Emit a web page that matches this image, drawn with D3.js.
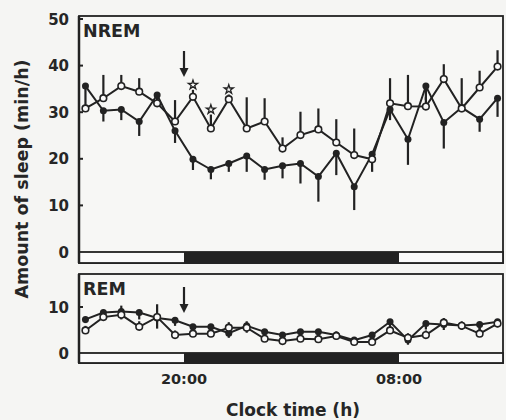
<!DOCTYPE html>
<meta charset="utf-8">
<script src="https://d3js.org/d3.v7.min.js"></script>
<style>
body {
  margin: 0;
  background: #f5f5f3;
}
svg {
  display: block;
}
text {
  font-family: "DejaVu Sans", sans-serif;
  font-weight: bold;
  fill: #262626;
}
.tick-label {
  font-size: 15px;
}
.panel-label {
  font-size: 17.5px;
}
.axis-title {
  font-size: 17px;
}
</style>
<body>
<div class="chart"></div>
<script>

// Clock time of each hourly bin (h, 24 = midnight)
var hours = [14.5, 15.5, 16.5, 17.5, 18.5, 19.5, 20.5, 21.5, 22.5, 23.5, 24.5, 25.5,
             26.5, 27.5, 28.5, 29.5, 30.5, 31.5, 32.5, 33.5, 34.5, 35.5, 36.5, 37.5];

// NREM sleep (min/h)
var nremOpen = [30.8, 33.0, 35.6, 34.4, 31.9, 28.0, 33.3, 26.5, 32.8, 26.5, 28.0, 22.2,
                25.1, 26.3, 23.5, 20.8, 19.9, 31.9, 31.3, 31.2, 37.1, 30.8, 35.3, 39.8];
var nremOpenErr = [0, 5.0, 2.4, 2.9, 1.0, 4.6, 1.5, 3.0, 1.0, 6.7, 5.0, 2.4,
                   5.0, 4.5, 5.0, 5.7, 1.5, 5.4, 6.7, 2.0, 3.2, 6.5, 3.6, 3.5];
var nremFilled = [35.6, 30.3, 30.6, 28.0, 33.7, 26.0, 19.9, 17.7, 19.0, 20.6, 17.7, 18.5,
                  19.0, 16.2, 21.2, 14.0, 21.0, 30.6, 24.2, 35.6, 27.8, 31.0, 28.5, 33.0];
var nremFilledErr = [4.8, 2.3, 2.3, 3.1, 1.0, 2.6, 2.3, 2.1, 1.8, 3.4, 2.2, 2.7,
                     4.3, 5.4, 4.7, 5.0, 3.8, 2.3, 5.5, 3.0, 5.6, 1.0, 2.7, 4.0];
var nremStars = [6, 7, 8];

// REM sleep (min/h)
var remOpen = [4.9, 7.8, 8.3, 5.7, 7.8, 3.9, 4.2, 4.2, 5.5, 5.5, 3.1, 2.6,
               3.1, 3.0, 3.7, 2.4, 2.4, 4.9, 3.3, 3.9, 6.6, 5.9, 4.2, 6.4];
var remOpenErr = [1.0, 1.2, 2.0, 1.2, 2.8, 1.0, 1.0, 1.0, 1.2, 1.4, 1.0, 1.0,
                  1.0, 1.0, 1.0, 1.0, 1.3, 1.0, 1.0, 1.0, 1.0, 1.0, 1.4, 1.0];
var remFilled = [7.3, 8.8, 9.0, 8.8, 7.6, 7.1, 5.7, 5.7, 4.3, 5.9, 4.6, 3.9,
                 4.6, 4.6, 3.9, 2.8, 3.9, 6.8, 2.8, 6.4, 6.2, 6.0, 6.2, 6.8];
var remFilledErr = [0.8, 1.3, 1.7, 1.5, 2.3, 1.2, 1.0, 1.0, 1.0, 1.5, 1.0, 1.0,
                    1.0, 1.2, 1.0, 0.8, 1.0, 1.3, 1.0, 1.3, 1.2, 1.0, 1.2, 1.2];

var xTicks = [20, 32],
    xTickLabels = ["20:00", "08:00"],
    darkPeriod = [20, 32],
    arrowTime = 20;

var width = 506,
    height = 420,
    frameLeft = 79,
    frameRight = 503,
    ink = "#222";

var svg = d3.select(".chart").append("svg")
    .attr("width", width)
    .attr("height", height);

var x = d3.scaleLinear().domain([20, 32]).range([184, 399]);

var panels = [
  {name: "NREM", top: 16, bottom: 263, y: d3.scaleLinear().domain([0, 50]).range([252, 19]),
   ticks: [0, 10, 20, 30, 40, 50], open: nremOpen, openErr: nremOpenErr,
   filled: nremFilled, filledErr: nremFilledErr, stars: nremStars, arrow: [51, 77]},
  {name: "REM", top: 274, bottom: 363, y: d3.scaleLinear().domain([0, 10]).range([353, 307]),
   ticks: [0, 10], open: remOpen, openErr: remOpenErr,
   filled: remFilled, filledErr: remFilledErr, stars: [], arrow: [287, 313]}
];

panels.forEach(function(p) {
  var g = svg.append("g");
  var y = p.y;
  var zero = y(0);

  // frame
  g.append("rect")
    .attr("x", frameLeft)
    .attr("y", p.top)
    .attr("width", frameRight - frameLeft)
    .attr("height", p.bottom - p.top)
    .attr("fill", "#f7f7f5")
    .attr("stroke", ink)
    .attr("stroke-width", 1.8);

  // light / dark bar
  g.append("rect")
    .attr("x", frameLeft)
    .attr("y", zero)
    .attr("width", frameRight - frameLeft)
    .attr("height", p.bottom - zero)
    .attr("fill", "#fafafa")
    .attr("stroke", ink)
    .attr("stroke-width", 1.8);
  g.append("rect")
    .attr("x", x(darkPeriod[0]))
    .attr("y", zero)
    .attr("width", x(darkPeriod[1]) - x(darkPeriod[0]))
    .attr("height", p.bottom - zero)
    .attr("fill", ink);

  // y axis line (thicker)
  g.append("line")
    .attr("x1", frameLeft).attr("x2", frameLeft)
    .attr("y1", p.top).attr("y2", p.bottom)
    .attr("stroke", ink)
    .attr("stroke-width", 2.5);

  // y ticks
  g.selectAll(".ytick")
    .data(p.ticks.filter(function(d) { return d > 0; }))
    .enter().append("line")
    .attr("x1", frameLeft).attr("x2", frameLeft + 4)
    .attr("y1", function(d) { return y(d); })
    .attr("y2", function(d) { return y(d); })
    .attr("stroke", ink)
    .attr("stroke-width", 2);

  g.selectAll(".ylab")
    .data(p.ticks)
    .enter().append("text")
    .attr("class", "tick-label")
    .attr("x", 69)
    .attr("y", function(d) { return y(d) + 5.5; })
    .attr("text-anchor", "end")
    .text(function(d) { return d; });

  g.append("text")
    .attr("class", "panel-label")
    .attr("x", 83)
    .attr("y", p.top + 21)
    .text(p.name);

  // arrow
  g.append("line")
    .attr("x1", x(arrowTime)).attr("x2", x(arrowTime))
    .attr("y1", p.arrow[0]).attr("y2", p.arrow[1] - 6)
    .attr("stroke", ink)
    .attr("stroke-width", 2.2);
  g.append("path")
    .attr("d", "M" + (x(arrowTime) - 4.5) + "," + (p.arrow[1] - 9) +
               "L" + (x(arrowTime) + 4.5) + "," + (p.arrow[1] - 9) +
               "L" + x(arrowTime) + "," + p.arrow[1] + "Z")
    .attr("fill", ink);

  var line = d3.line()
    .x(function(d, i) { return x(hours[i]); })
    .y(function(d) { return y(d); });

  // error bars: open upward, filled downward
  g.selectAll(".err-open")
    .data(p.open)
    .enter().append("line")
    .attr("x1", function(d, i) { return x(hours[i]); })
    .attr("x2", function(d, i) { return x(hours[i]); })
    .attr("y1", function(d) { return y(d); })
    .attr("y2", function(d, i) { return y(d + p.openErr[i]); })
    .attr("stroke", ink)
    .attr("stroke-width", 2.2);

  g.selectAll(".err-filled")
    .data(p.filled)
    .enter().append("line")
    .attr("x1", function(d, i) { return x(hours[i]); })
    .attr("x2", function(d, i) { return x(hours[i]); })
    .attr("y1", function(d) { return y(d); })
    .attr("y2", function(d, i) { return y(d - p.filledErr[i]); })
    .attr("stroke", ink)
    .attr("stroke-width", 2.2);

  g.append("path")
    .attr("d", line(p.filled))
    .attr("fill", "none")
    .attr("stroke", ink)
    .attr("stroke-width", 2);
  g.append("path")
    .attr("d", line(p.open))
    .attr("fill", "none")
    .attr("stroke", ink)
    .attr("stroke-width", 2);

  g.selectAll(".dot-filled")
    .data(p.filled)
    .enter().append("circle")
    .attr("cx", function(d, i) { return x(hours[i]); })
    .attr("cy", function(d) { return y(d); })
    .attr("r", 3.5)
    .attr("fill", ink);

  g.selectAll(".dot-open")
    .data(p.open)
    .enter().append("circle")
    .attr("cx", function(d, i) { return x(hours[i]); })
    .attr("cy", function(d) { return y(d); })
    .attr("r", 3.3)
    .attr("fill", "#fafafa")
    .attr("stroke", ink)
    .attr("stroke-width", 1.6);

  // significance stars
  g.selectAll(".star")
    .data(p.stars)
    .enter().append("path")
    .attr("d", d3.symbol().type(d3.symbolStar).size(26))
    .attr("transform", function(k) {
      return "translate(" + x(hours[k]) + "," + (y(p.open[k] + p.openErr[k]) - 5) + ")";
    })
    .attr("fill", "none")
    .attr("stroke", ink)
    .attr("stroke-width", 1.3);
});

// x tick labels
svg.selectAll(".xlab")
  .data(xTicks)
  .enter().append("text")
  .attr("class", "tick-label")
  .attr("x", function(d) { return x(d); })
  .attr("y", 384)
  .attr("text-anchor", "middle")
  .style("font-size", "14.5px")
  .text(function(d, i) { return xTickLabels[i]; });

svg.append("text")
  .attr("class", "axis-title")
  .attr("x", 293)
  .attr("y", 416)
  .attr("text-anchor", "middle")
  .text("Clock time (h)");

svg.append("text")
  .attr("class", "axis-title")
  .attr("transform", "translate(28,179) rotate(-90)")
  .attr("text-anchor", "middle")
  .style("font-size", "17.5px")
  .text("Amount of sleep (min/h)");

</script>
</body>
</html>
